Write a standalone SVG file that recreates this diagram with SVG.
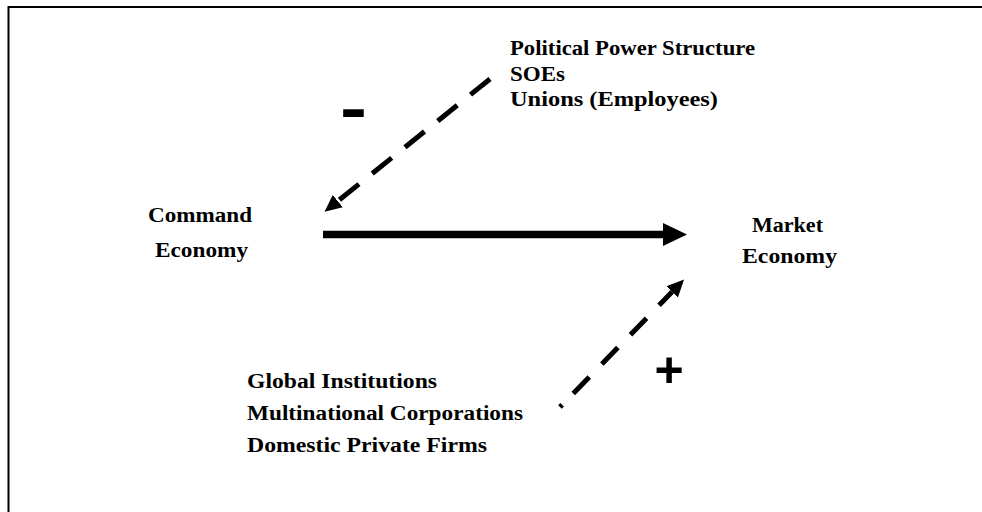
<svg xmlns="http://www.w3.org/2000/svg" width="982" height="512" viewBox="0 0 982 512">
<style>
.lbl{font-family:"Liberation Serif","Times New Roman",serif;font-weight:bold;font-size:20px;fill:#000}
.sign{font-family:"Liberation Sans",Arial,sans-serif;font-weight:bold;fill:#000}
.dash{fill:none;stroke:#000;stroke-width:5}
</style>
<defs>
<marker id="headD" markerUnits="userSpaceOnUse" viewBox="0 -9 18 18" refX="0" refY="0" markerWidth="18" markerHeight="18" orient="auto">
<path d="M0,-8 L17,0 L0,8 Z" fill="#000"/>
</marker>
<marker id="headS" markerUnits="userSpaceOnUse" viewBox="0 -12 25 24" refX="0" refY="0" markerWidth="25" markerHeight="24" orient="auto">
<path d="M0,-11.5 L24,0 L0,11.5 Z" fill="#000"/>
</marker>
</defs>
<rect width="982" height="512" fill="#fff"/>
<path d="M8.5,512 V7 H982" fill="none" stroke="#000" stroke-width="2"/>
<g id="connectors">
<path class="dash" d="M490,79 L337.8,201.1" stroke-dasharray="25 17" marker-end="url(#headD)"/>
<path d="M323,234.5 H663" stroke="#000" stroke-width="7.5" fill="none" marker-end="url(#headS)"/>
<path class="dash" d="M560,407 L672.2,291.8" stroke-dasharray="3 16 23 18 23 18 23 18 40" marker-end="url(#headD)"/>
</g>
<g id="command">
<text class="lbl" x="148" y="222" textLength="104" lengthAdjust="spacingAndGlyphs">Command</text>
<text class="lbl" x="155" y="257" textLength="93" lengthAdjust="spacingAndGlyphs">Economy</text>
</g>
<g id="market">
<text class="lbl" x="752" y="232" textLength="71" lengthAdjust="spacingAndGlyphs">Market</text>
<text class="lbl" x="742" y="263" textLength="95" lengthAdjust="spacingAndGlyphs">Economy</text>
</g>
<g id="opponents">
<text class="lbl" x="510" y="55" textLength="245" lengthAdjust="spacingAndGlyphs">Political Power Structure</text>
<text class="lbl" x="510" y="81" textLength="55" lengthAdjust="spacingAndGlyphs">SOEs</text>
<text class="lbl" x="510" y="106" textLength="208" lengthAdjust="spacingAndGlyphs">Unions (Employees)</text>
</g>
<g id="proponents">
<text class="lbl" x="247" y="388" textLength="190" lengthAdjust="spacingAndGlyphs">Global Institutions</text>
<text class="lbl" x="247" y="420" textLength="276" lengthAdjust="spacingAndGlyphs">Multinational Corporations</text>
<text class="lbl" x="247" y="452" textLength="240" lengthAdjust="spacingAndGlyphs">Domestic Private Firms</text>
</g>
<g id="minus">
<text class="sign" x="340" y="130" font-size="64" textLength="27" lengthAdjust="spacingAndGlyphs">-</text>
</g>
<g id="plus">
<text class="sign" x="669" y="387" font-size="50" text-anchor="middle">+</text>
</g>
</svg>
